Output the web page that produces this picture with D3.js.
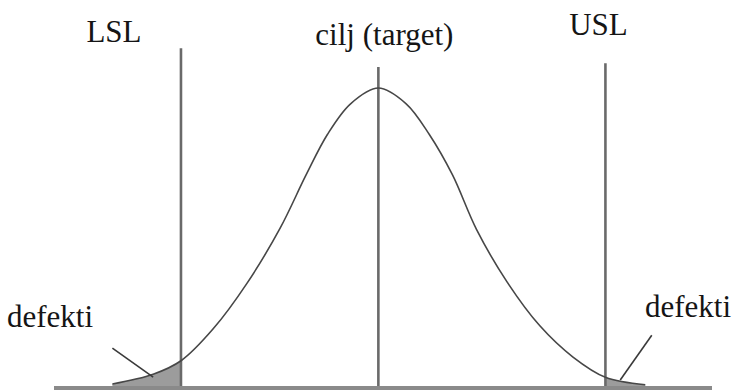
<!DOCTYPE html>
<html>
<head>
<meta charset="utf-8">
<script src="https://cdn.jsdelivr.net/npm/d3@7"></script>
<style>
  body { margin: 0; background: #fff; }
  svg text { font-family: "Liberation Serif", "Times New Roman", serif; fill: #151515; }
</style>
</head>
<body>
<div id="chart"></div>
<script>
// process values in sigma units, density
const curveX = [-2.87, -2.43, -2.13, -1.78, -1.42, -1.06, -0.78, -0.55, -0.30, 0, 0.30, 0.55, 0.80, 1.06, 1.39, 1.74, 2.10, 2.45, 2.88];
const curveY = [0.004, 0.017, 0.035, 0.078, 0.138, 0.212, 0.283, 0.337, 0.378, 0.399, 0.378, 0.337, 0.283, 0.210, 0.140, 0.082, 0.040, 0.013, 0.003];

// spec limits and target
const limitNames = ["LSL", "cilj (target)", "USL"];
const limitValues = [-2.13, 0, 2.45];
const limitTops = [0.452, 0.427, 0.432];

const defectLabel = "defekti";

const width = 739;
const height = 390;

const svg = d3.select("#chart")
  .append("svg")
  .attr("width", width)
  .attr("height", height);

const x = d3.scaleLinear()
  .domain([-3.5, 3.6])
  .range([54, 712]);

const y = d3.scaleLinear()
  .domain([0, 0.4])
  .range([387, 87.3]);

const points = curveX.map((v, i) => [v, curveY[i]]);

// clip the area to the two tails outside the limits
const defs = svg.append("defs");
defs.append("clipPath").attr("id", "tails")
  .selectAll("rect")
  .data([[x.range()[0], x(limitValues[0])], [x(limitValues[2]), x.range()[1]]])
  .enter()
  .append("rect")
  .attr("x", d => d[0])
  .attr("y", 0)
  .attr("width", d => d[1] - d[0])
  .attr("height", height);

const area = d3.area()
  .x(d => x(d[0]))
  .y0(y(0))
  .y1(d => y(d[1]))
  .curve(d3.curveCatmullRom);

svg.append("path")
  .datum(points)
  .attr("d", area)
  .attr("fill", "#9c9c9c")
  .attr("clip-path", "url(#tails)");

// vertical lines
svg.selectAll("line.limit")
  .data(limitValues)
  .enter()
  .append("line")
  .attr("class", "limit")
  .attr("x1", d => x(d))
  .attr("x2", d => x(d))
  .attr("y1", (d, i) => y(limitTops[i]))
  .attr("y2", y(0))
  .attr("stroke", "#6a6a6a")
  .attr("stroke-width", 2.6);

// the curve
const line = d3.line()
  .x(d => x(d[0]))
  .y(d => y(d[1]))
  .curve(d3.curveCatmullRom);

svg.append("path")
  .datum(points)
  .attr("d", line)
  .attr("fill", "none")
  .attr("stroke", "#474747")
  .attr("stroke-width", 1.6);

// base line
svg.append("line")
  .attr("x1", x.range()[0])
  .attr("x2", x.range()[1])
  .attr("y1", y(0) + 1)
  .attr("y2", y(0) + 1)
  .attr("stroke", "#8a8a8a")
  .attr("stroke-width", 4);

// labels above the lines
const labelDx = [-67, 6, -7];
const labelY = [42, 45, 35];
svg.selectAll("text.limit")
  .data(limitNames)
  .enter()
  .append("text")
  .attr("class", "limit")
  .attr("x", (d, i) => x(limitValues[i]) + labelDx[i])
  .attr("y", (d, i) => labelY[i])
  .attr("text-anchor", "middle")
  .attr("font-size", 31)
  .text(d => d);

// defect pointers: [x1, y1, x2, y2] in data units
const pointers = [[-2.87, 0.052, -2.43, 0.0133], [2.95, 0.069, 2.61, 0.0093]];
svg.selectAll("line.pointer")
  .data(pointers)
  .enter()
  .append("line")
  .attr("class", "pointer")
  .attr("x1", d => x(d[0]))
  .attr("y1", d => y(d[1]))
  .attr("x2", d => x(d[2]))
  .attr("y2", d => y(d[3]))
  .attr("stroke", "#3a3a3a")
  .attr("stroke-width", 1.6);

svg.append("text")
  .attr("x", 7)
  .attr("y", 327)
  .attr("font-size", 31)
  .text(defectLabel);

svg.append("text")
  .attr("x", 645)
  .attr("y", 317)
  .attr("font-size", 31)
  .text(defectLabel);
</script>
</body>
</html>
